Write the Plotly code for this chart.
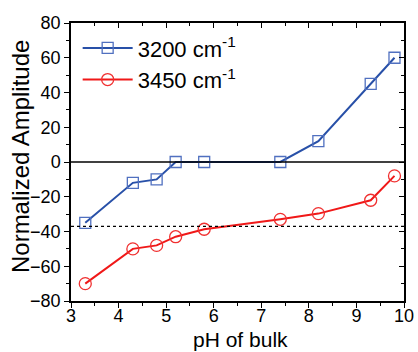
import plotly.graph_objects as go

ph = [3.3, 4.3, 4.8, 5.2, 5.8, 7.4, 8.2, 9.3, 9.8]
amp_3200 = [-35, -12, -10, 0, 0, 0, 12, 45, 60]
amp_3450 = [-70, -50, -48, -43, -38.7, -33, -29.7, -22, -8]
dash_level = -37
name_3200 = "3200 cm<sup>-1</sup>"
name_3450 = "3450 cm<sup>-1</sup>"
x_title = "pH of bulk"
y_title = "Normalized Amplitude"

blue = "#2850a8"
red = "#f01818"
font = "Liberation Sans, Arial, sans-serif"

fig = go.Figure()
fig.add_trace(go.Scatter(x=ph, y=amp_3200, mode="lines+markers", name=name_3200,
                         line=dict(color=blue, width=2),
                         marker=dict(symbol="square-open", size=11, color="#5070c0", line=dict(width=1.3))))
fig.add_trace(go.Scatter(x=ph, y=amp_3450, mode="lines+markers", name=name_3450,
                         line=dict(color=red, width=2),
                         marker=dict(symbol="circle-open", size=12, color="#f03030", line=dict(width=1.3))))

fig.add_hline(y=0, line=dict(color="black", width=1.3))
fig.add_hline(y=dash_level, line=dict(color="black", width=1.2, dash="dot"))

axis_common = dict(showline=True, linecolor="black", linewidth=1.5, showgrid=False, zeroline=False,
                   ticks="outside", ticklen=5, tickwidth=1.2, tickcolor="black", automargin=False,
                   tickfont=dict(family=font, size=18, color="black"))

fig.update_layout(
    width=418, height=352,
    margin=dict(l=71, r=14, t=23, b=51),
    paper_bgcolor="white", plot_bgcolor="white",
    font=dict(family=font, color="black"),
    xaxis=dict(range=[3, 10], dtick=1, tick0=3, ticklabelstandoff=-7,
               minor=dict(dtick=0.5, ticks="outside", ticklen=3, tickcolor="black"),
               **axis_common),
    yaxis=dict(range=[-80, 80], dtick=20,
               minor=dict(dtick=10, ticks="outside", ticklen=3, tickcolor="black"),
               **axis_common),
    xaxis2=dict(overlaying="x", side="top", matches="x", range=[3, 10], dtick=1, tick0=3,
                showline=True, linecolor="black", linewidth=1.5, showgrid=False, zeroline=False,
                ticks="inside", ticklen=5, tickcolor="black", showticklabels=False, automargin=False,
                minor=dict(dtick=0.5, ticks="inside", ticklen=3, tickcolor="black")),
    yaxis2=dict(overlaying="y", side="right", matches="y", range=[-80, 80], dtick=20,
                showline=True, linecolor="black", linewidth=1.5, showgrid=False, zeroline=False,
                ticks="inside", ticklen=5, tickcolor="black", showticklabels=False, automargin=False,
                minor=dict(dtick=10, ticks="inside", ticklen=3, tickcolor="black")),
    legend=dict(x=0.02, y=0.985, xanchor="left", yanchor="top", bgcolor="rgba(0,0,0,0)",
                font=dict(family=font, size=22, color="black"), itemwidth=50, tracegroupgap=4),
    showlegend=True,
    annotations=[
        dict(text=x_title, xref="paper", yref="paper", x=0.51, y=-0.137, xanchor="center",
             yanchor="middle", showarrow=False, font=dict(family=font, size=21, color="black")),
        dict(text=y_title, xref="paper", yref="paper", x=-0.15, y=0.518, xanchor="center",
             yanchor="middle", textangle=-90, showarrow=False,
             font=dict(family=font, size=24, color="black")),
    ],
)
# invisible trace to anchor secondary axes
fig.add_trace(go.Scatter(x=[3], y=[-80], xaxis="x2", yaxis="y2", mode="markers",
                         marker=dict(opacity=0), showlegend=False, hoverinfo="skip"))

fig.write_html("out.html")
